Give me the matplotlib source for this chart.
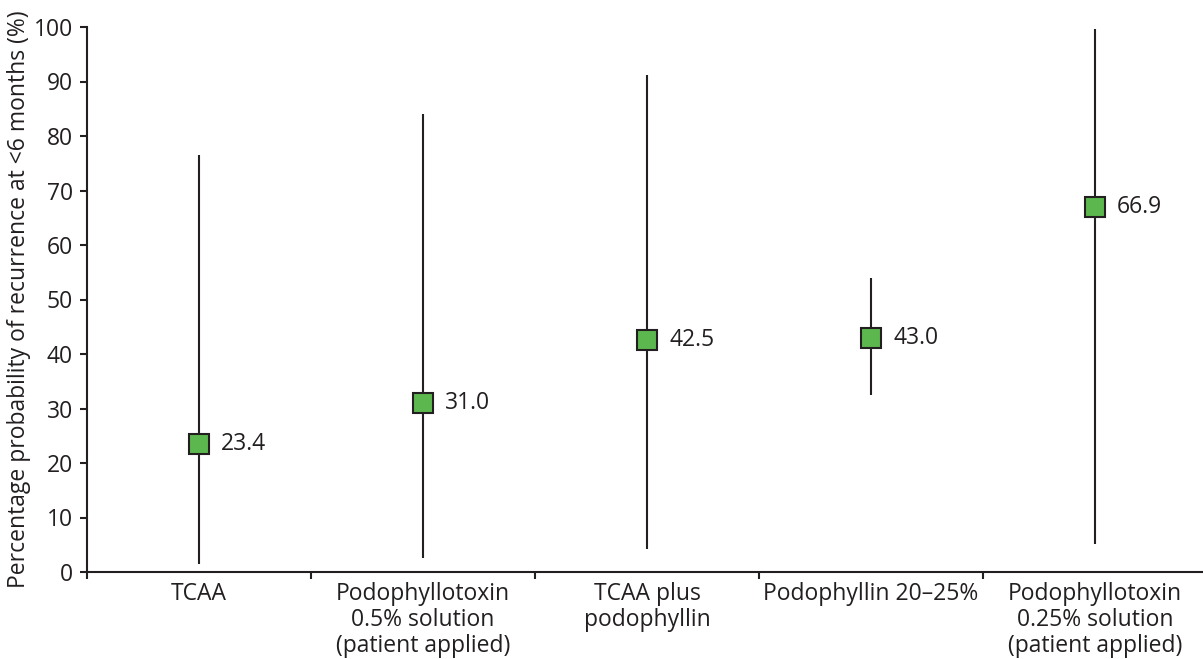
import numpy as np
import matplotlib.pyplot as plt

plt.rcParams['font.family'] = ['Open Sans', 'DejaVu Sans']

categories = ["TCAA", "Podophyllotoxin\n0.5% solution\n(patient applied)", "TCAA plus\npodophyllin",
              "Podophyllin 20\u201325%", "Podophyllotoxin\n0.25% solution\n(patient applied)"]
estimate = [23.4, 31.0, 42.5, 43.0, 66.9]
lower = [1.5, 2.6, 4.2, 32.5, 5.1]
upper = [76.5, 84.0, 91.2, 53.9, 99.6]

fs = 16.5
fig = plt.figure(figsize=(12.03, 6.59), dpi=100)
ax = fig.add_axes([87/1203, 87/659, 1120/1203, 545/659])

x = np.arange(len(categories))
est = np.array(estimate)
ax.vlines(x, lower, upper, color='#231f20', lw=1.5, zorder=2)
ax.plot(x, est, 's', ms=14.5, mfc='#5cb84e', mec='#231f20', mew=1.5, zorder=3)
for xi, v in zip(x, est):
    ax.annotate("%.1f" % v, (xi, v), xytext=(16, 0), textcoords='offset points',
                va='center', ha='left', fontsize=fs, color='#231f20')

ax.set_xlim(-0.5, 4.5)
ax.set_ylim(0, 100)
ax.set_yticks(range(0, 101, 10))
ax.set_xticks(x)
ax.set_xticklabels(categories, fontsize=fs, color='#231f20', linespacing=1.12, va='top')
ax.set_xticks(np.arange(-0.5, 4.6, 1), minor=True)
ax.tick_params(axis='x', which='major', length=0, pad=7)
ax.tick_params(axis='x', which='minor', length=5, width=1.5, color='#231f20')
ax.tick_params(axis='y', length=5, width=1.5, color='#231f20', labelsize=fs, labelcolor='#231f20', pad=5)
for s in ['top', 'right']:
    ax.spines[s].set_visible(False)
for s in ['left', 'bottom']:
    ax.spines[s].set_linewidth(1.5)
    ax.spines[s].set_color('#231f20')
ax.set_ylabel("Percentage probability of recurrence at <6 months (%)", fontsize=fs,
              color='#231f20', labelpad=2)

fig.savefig('out.png', dpi=100)
